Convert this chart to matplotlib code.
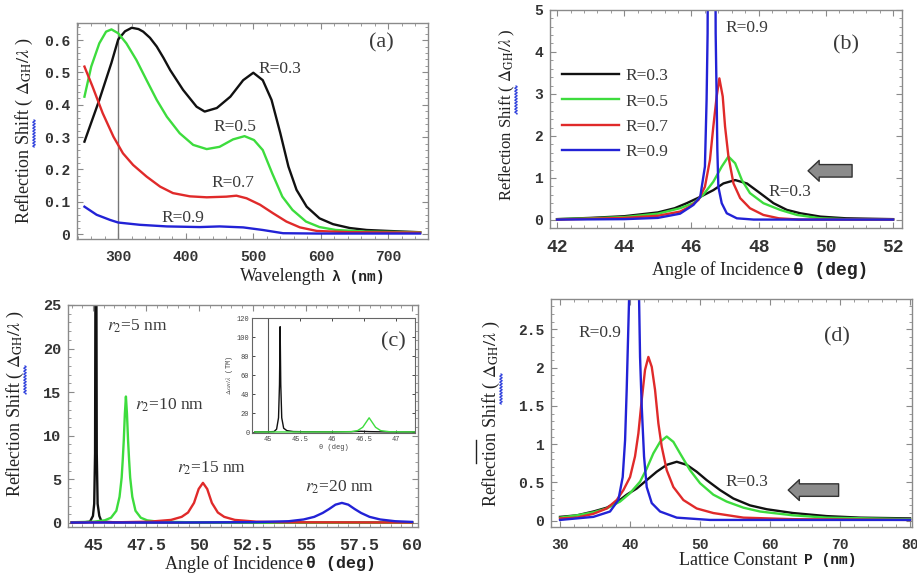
import matplotlib
matplotlib.use('Agg')
import numpy as np
import matplotlib.pyplot as plt
from matplotlib.ticker import MultipleLocator, AutoMinorLocator, FuncFormatter
from matplotlib.lines import Line2D

SERIF = 'Liberation Serif'
MONO = 'Liberation Mono'
plt.rcParams['font.family'] = MONO
plt.rcParams['font.size'] = 10.5
plt.rcParams['mathtext.fontset'] = 'stix'

COLORS = ['#111111', '#3ddc3d', '#e02a2a', '#2222d6']
R_LABELS = ['R=0.3', 'R=0.5', 'R=0.7', 'R=0.9']
LABEL_COLOR = '#3a3a3a'

# ---- (a) shift vs wavelength ----
a_x_black = [250, 272, 290, 300, 310, 320, 330, 337, 347, 357, 367, 377, 396, 416, 428, 446, 466, 485, 500, 514, 527, 540, 552, 564, 579, 598, 618, 643, 668, 700, 747]
a_y_black = [0.286, 0.415, 0.53, 0.602, 0.627, 0.638, 0.634, 0.626, 0.607, 0.58, 0.545, 0.507, 0.446, 0.394, 0.379, 0.39, 0.425, 0.476, 0.499, 0.476, 0.415, 0.312, 0.209, 0.137, 0.085, 0.049, 0.031, 0.019, 0.013, 0.01, 0.006]
a_x_green = [250, 260, 272, 282, 290, 300, 312, 327, 342, 357, 372, 391, 411, 431, 450, 470, 487, 501, 514, 528, 543, 558, 578, 598, 622, 667, 747]
a_y_green = [0.425, 0.518, 0.59, 0.626, 0.633, 0.621, 0.59, 0.538, 0.476, 0.415, 0.363, 0.312, 0.276, 0.263, 0.27, 0.293, 0.303, 0.291, 0.26, 0.188, 0.116, 0.075, 0.039, 0.022, 0.013, 0.008, 0.006]
a_x_red = [250, 262, 277, 293, 307, 322, 342, 362, 381, 406, 431, 460, 475, 490, 510, 529, 549, 569, 594, 643, 747]
a_y_red = [0.518, 0.456, 0.374, 0.301, 0.25, 0.214, 0.178, 0.147, 0.127, 0.117, 0.114, 0.116, 0.119, 0.111, 0.091, 0.065, 0.039, 0.021, 0.01, 0.006, 0.005]
a_x_blue = [250, 268, 288, 300, 332, 372, 421, 450, 485, 514, 544, 594, 747]
a_y_blue = [0.085, 0.06, 0.044, 0.036, 0.029, 0.024, 0.022, 0.024, 0.021, 0.013, 0.003, 0.002, 0.002]

# ---- (b) shift vs angle ----
b_x_black = [42, 43, 44, 45, 45.5, 45.86, 46.26, 46.65, 46.95, 47.3, 47.65, 48.04, 48.44, 48.84, 49.24, 49.84, 50.6, 51.3, 52]
b_y_black = [0.02, 0.05, 0.09, 0.18, 0.28, 0.4, 0.55, 0.71, 0.87, 0.95, 0.87, 0.64, 0.4, 0.24, 0.16, 0.08, 0.04, 0.03, 0.02]
b_x_green = [42, 43, 44, 45, 45.66, 46.06, 46.35, 46.65, 46.9, 47.1, 47.3, 47.5, 47.74, 48.14, 48.64, 49.14, 49.84, 50.6, 52]
b_y_green = [0.02, 0.04, 0.07, 0.15, 0.28, 0.4, 0.6, 0.91, 1.27, 1.51, 1.35, 0.95, 0.64, 0.4, 0.24, 0.12, 0.04, 0.02, 0.01]
b_x_red = [42, 43, 44, 45, 45.66, 45.96, 46.21, 46.4, 46.55, 46.65, 46.75, 46.83, 46.93, 47.0, 47.1, 47.25, 47.45, 47.74, 48.14, 48.6, 49.2, 52]
b_y_red = [0.01, 0.03, 0.05, 0.1, 0.2, 0.32, 0.48, 0.79, 1.43, 2.22, 2.94, 3.37, 2.94, 2.22, 1.51, 0.87, 0.52, 0.28, 0.12, 0.04, 0.01, 0.01]
b_x_blue = [42, 44, 45, 45.66, 46.06, 46.26, 46.4, 46.45, 46.48, 46.61, 46.72, 46.75, 46.77, 46.8, 46.9, 47.05, 47.35, 47.85, 52]
b_y_blue = [0.01, 0.02, 0.05, 0.15, 0.36, 0.55, 1.27, 2.86, 4.44, 30, 4.44, 2.86, 1.67, 0.79, 0.4, 0.16, 0.04, 0.01, 0.01]

# ---- (c) shift vs angle for r2 ----
R2_LABELS = ['$r_2$=5 nm', '$r_2$=10 nm', '$r_2$=15 nm', '$r_2$=20 nm']
c_x_black = [44, 44.6, 44.86, 45.0, 45.06, 45.1, 45.12, 45.14, 45.16, 45.18, 45.22, 45.3, 45.41, 46, 48, 52, 56, 60]
c_y_black = [0.05, 0.08, 0.15, 0.8, 2.2, 8, 30, 110, 30, 8, 2.2, 0.8, 0.15, 0.08, 0.06, 0.05, 0.05, 0.05]
c_x_green = [44, 45.05, 45.55, 45.85, 46.1, 46.25, 46.35, 46.4, 46.45, 46.5, 46.55, 46.6, 46.65, 46.7, 46.75, 46.85, 47.0, 47.25, 47.55, 48.05, 50, 55, 60]
c_y_green = [0.08, 0.15, 0.3, 0.6, 1.4, 3.0, 5.2, 7.2, 9.5, 12.5, 14.5, 12.5, 9.5, 7.2, 5.2, 3.0, 1.4, 0.6, 0.3, 0.15, 0.06, 0.04, 0.03]
c_x_red = [44, 46.17, 47.67, 48.67, 49.17, 49.47, 49.75, 49.97, 50.17, 50.37, 50.59, 50.87, 51.17, 51.67, 52.67, 54.17, 60]
c_y_red = [0.05, 0.08, 0.15, 0.35, 0.7, 1.2, 2.3, 3.9, 4.6, 3.9, 2.3, 1.2, 0.7, 0.35, 0.15, 0.08, 0.05]
c_x_blue = [44, 50, 52.7, 54.2, 54.9, 55.4, 55.8, 56.1, 56.4, 56.7, 57.0, 57.3, 57.6, 58.0, 58.5, 59.2, 60]
c_y_blue = [0.05, 0.06, 0.1, 0.2, 0.4, 0.7, 1.15, 1.6, 2.1, 2.3, 2.1, 1.6, 1.15, 0.7, 0.4, 0.2, 0.12]
# inset (TM)
ins_x_black = [44.8, 45.0, 45.1, 45.14, 45.17, 45.185, 45.195, 45.205, 45.22, 45.25, 45.3, 45.4, 45.6, 46.0, 46.3, 46.45, 46.6, 46.9, 47.3]
ins_y_black = [0.1, 0.2, 0.5, 3, 15, 50, 111, 50, 15, 4, 1.5, 0.5, 0.3, 0.2, 0.4, 0.8, 0.4, 0.1, 0.05]
ins_x_green = [44.8, 45.5, 46.0, 46.3, 46.4, 46.48, 46.54, 46.58, 46.62, 46.68, 46.76, 46.9, 47.3]
ins_y_green = [0.05, 0.1, 0.15, 0.3, 1.5, 5, 11, 15, 11, 5, 1.5, 0.3, 0.1]

# ---- (d) shift vs lattice constant ----
d_x_black = [30, 32.4, 34.76, 36.67, 38.1, 39.52, 40.95, 42.38, 43.81, 45.24, 46.67, 48.1, 49.52, 50.95, 52.86, 54.76, 57.14, 59.52, 63.3, 68.1, 72.9, 80]
d_y_black = [0.05, 0.07, 0.12, 0.17, 0.24, 0.34, 0.42, 0.53, 0.64, 0.73, 0.77, 0.73, 0.64, 0.53, 0.4, 0.29, 0.2, 0.15, 0.1, 0.06, 0.04, 0.03]
d_x_green = [30, 32.4, 34.76, 36.67, 38.57, 40.0, 41.43, 42.38, 43.33, 44.29, 45.24, 46.19, 47.14, 48.57, 50.0, 51.9, 53.8, 56.2, 58.57, 63.3, 68.1, 80]
d_y_green = [0.04, 0.07, 0.11, 0.16, 0.25, 0.36, 0.51, 0.68, 0.88, 1.03, 1.1, 1.03, 0.88, 0.66, 0.49, 0.34, 0.25, 0.17, 0.12, 0.07, 0.04, 0.02]
d_x_red = [30, 32.4, 34.76, 36.67, 38.1, 39.05, 40.0, 40.71, 41.19, 41.67, 42.14, 42.62, 43.1, 43.57, 44.05, 44.52, 45.24, 46.19, 47.62, 49.52, 51.9, 56.2, 63.3, 80]
d_y_red = [0.03, 0.04, 0.09, 0.16, 0.27, 0.4, 0.57, 0.84, 1.14, 1.58, 1.97, 2.14, 2.01, 1.71, 1.27, 0.97, 0.66, 0.44, 0.27, 0.16, 0.1, 0.04, 0.02, 0.01]
d_x_blue = [30, 34.76, 37.14, 38.33, 38.95, 39.29, 39.52, 39.86, 40.55, 41.29, 41.43, 41.67, 42.0, 42.38, 43.1, 44.29, 46.67, 51.4, 80]
d_y_blue = [0.01, 0.05, 0.12, 0.27, 0.57, 1.05, 1.71, 2.89, 12, 2.89, 2.14, 1.49, 0.84, 0.44, 0.23, 0.12, 0.04, 0.01, 0.01]


def style(ax, xmaj, ymaj, xsize=10.5, ysize=10.5):
    for s in ax.spines.values():
        s.set_color('#8a8a8a')
        s.set_linewidth(1.0)
    ax.xaxis.set_major_locator(MultipleLocator(xmaj))
    ax.yaxis.set_major_locator(MultipleLocator(ymaj))
    ax.xaxis.set_minor_locator(AutoMinorLocator(5))
    ax.yaxis.set_minor_locator(AutoMinorLocator(5))
    fmt = FuncFormatter(lambda v, p: f'{v:g}')
    ax.xaxis.set_major_formatter(fmt)
    ax.yaxis.set_major_formatter(fmt)
    ax.tick_params(which='both', direction='in', top=True, right=True,
                   color='#8a8a8a', labelcolor='#333333')
    ax.tick_params(which='major', length=4, width=0.8)
    ax.tick_params(which='minor', length=2, width=0.6)
    ax.tick_params(axis='x', pad=8, labelsize=xsize)
    ax.tick_params(axis='y', pad=5, labelsize=ysize)
    for lab in ax.get_xticklabels() + ax.get_yticklabels():
        lab.set_fontweight('bold')


def xlabel2(ax, main, unit, xm, xu, y, usize=10.5):
    ax.text(xm, y, main, transform=ax.transAxes, family=SERIF,
            size=13, ha='left', va='center', color='#222222')
    ax.text(xu, y, unit, transform=ax.transAxes, family=MONO, weight='bold',
            size=usize, ha='left', va='center', color='#222222')


def ylabel(ax, x, y, size=13):
    ax.set_ylabel(r'Reflection Shift ( $\Delta_{\mathrm{GH}}/\lambda$ )',
                  family=SERIF, size=size, color='#222222')
    ax.yaxis.set_label_coords(x, y)


def squiggle(x_px, y0_px, y1_px):
    # blue spell-check underline next to the y label (figure pixels)
    yy = np.linspace(y0_px, y1_px, 60)
    xx = x_px + 1.2 * np.sin((yy - y0_px) * 2.1)
    fig.add_artist(Line2D(xx / 917, 1 - yy / 577, color='#3344dd', lw=0.9))


def note(ax, x, y, s, size=12.5, ha='left'):
    ax.text(x, y, s, family=SERIF, size=size, ha=ha,
            va='center', color=LABEL_COLOR)


def block_arrow(ax, x_tip, x_tail, y):
    ax.annotate('', xy=(x_tip, y), xytext=(x_tail, y),
                arrowprops=dict(arrowstyle='simple,head_length=0.8,head_width=1.5,tail_width=0.9',
                                fc='#8c8c8c', ec='#333333', lw=1.0, mutation_scale=10,
                                shrinkA=0, shrinkB=0))


fig = plt.figure(figsize=(9.17, 5.77), dpi=100)

# ---- (a) ----
ax = fig.add_axes([0.084, 0.586, 0.383, 0.374])
ax.axvline(300, color='#777777', lw=1.0)
for xs, ys, c in zip([a_x_black, a_x_green, a_x_red, a_x_blue],
                     [a_y_black, a_y_green, a_y_red, a_y_blue], COLORS):
    ax.plot(xs, ys, color=c, lw=1.7)
ax.set_xlim(239, 759)
ax.set_ylim(-0.0145, 0.6525)
style(ax, 100, 0.1)
note(ax, 507, 0.51, R_LABELS[0])
note(ax, 473, 0.33, R_LABELS[1], ha='center')
note(ax, 470, 0.158, R_LABELS[2], ha='center')
note(ax, 395, 0.05, R_LABELS[3], ha='center')
note(ax, 690, 0.59, '(a)', size=16, ha='center')
xlabel2(ax, 'Wavelength', 'λ (nm)', 0.465, 0.727, -0.175)
ylabel(ax, -0.12, 0.5)
squiggle(34, 120, 147)

# ---- (b) ----
ax = fig.add_axes([0.5998, 0.6049, 0.384, 0.378])
for xs, ys, c, lab in zip([b_x_black, b_x_green, b_x_red, b_x_blue],
                          [b_y_black, b_y_green, b_y_red, b_y_blue], COLORS, R_LABELS):
    ax.plot(xs, ys, color=c, lw=1.7, label=lab)
ax.set_xlim(41.79, 52.27)
ax.set_ylim(-0.19, 5)
style(ax, 2, 1, xsize=13)
leg = ax.legend(loc='upper left', bbox_to_anchor=(0.014, 0.765), frameon=False,
                handlelength=3.3, handletextpad=0.35, labelspacing=0.53,
                borderaxespad=0.0, prop={'family': SERIF, 'size': 12.5})
for t in leg.get_texts():
    t.set_color(LABEL_COLOR)
note(ax, 47.0, 4.57, R_LABELS[3])
note(ax, 48.28, 0.67, R_LABELS[0])
note(ax, 50.6, 4.17, '(b)', size=16, ha='center')
block_arrow(ax, 49.47, 50.78, 1.17)
xlabel2(ax, 'Angle of Incidence', 'θ (deg)', 0.29, 0.69, -0.195, usize=13)
ylabel(ax, -0.094, 0.52, size=12)
squiggle(516, 86, 114)

# ---- (c) ----
ax = fig.add_axes([0.0742, 0.0867, 0.3817, 0.3848])
for xs, ys, c in zip([c_x_black, c_x_green, c_x_red, c_x_blue],
                     [c_y_black, c_y_green, c_y_red, c_y_blue], COLORS):
    ax.plot(xs, ys, color=c, lw=1.7)
ax.set_xlim(43.83, 60.28)
ax.set_ylim(-0.46, 25)
style(ax, 2.5, 5, xsize=12, ysize=11)
note(ax, 45.66, 22.5, R2_LABELS[0])
note(ax, 46.97, 13.5, R2_LABELS[1])
note(ax, 48.95, 6.3, R2_LABELS[2])
note(ax, 54.96, 4.1, R2_LABELS[3])
xlabel2(ax, 'Angle of Incidence', 'θ (deg)', 0.277, 0.68, -0.165, usize=12)
ylabel(ax, -0.12, 0.554)
squiggle(25, 366, 394)

axi = fig.add_axes([0.275, 0.2496, 0.178, 0.199])
axi.axvline(45, color='#555555', lw=0.8)
axi.plot(ins_x_black, ins_y_black, color=COLORS[0], lw=1.0)
axi.plot(ins_x_green, ins_y_green, color=COLORS[1], lw=1.0)
axi.set_xlim(44.76, 47.3)
axi.set_ylim(-1, 120)
for s in axi.spines.values():
    s.set_color('#666666')
    s.set_linewidth(0.8)
axi.xaxis.set_major_locator(MultipleLocator(0.5))
axi.yaxis.set_major_locator(MultipleLocator(20))
axi.xaxis.set_major_formatter(FuncFormatter(lambda v, p: f'{v:g}'))
axi.tick_params(direction='in', top=True, right=True, length=2, width=0.5,
                labelsize=5, labelcolor='#444444', pad=2)
axi.set_xlabel('θ (deg)', fontsize=5, labelpad=1, color='#444444')
axi.set_ylabel(r'$\Delta_{GH}/\lambda$ (TM)', fontsize=5, labelpad=1, color='#444444')
axi.text(46.95, 95, '(c)', family=SERIF, size=16, ha='center',
         va='center', color=LABEL_COLOR)

# ---- (d) ----
ax = fig.add_axes([0.6009, 0.0867, 0.3937, 0.395])
for xs, ys, c in zip([d_x_black, d_x_green, d_x_red, d_x_blue],
                     [d_y_black, d_y_green, d_y_red, d_y_blue], COLORS):
    ax.plot(xs, ys, color=c, lw=1.7)
ax.set_xlim(28.71, 80.29)
ax.set_ylim(-0.082, 2.896)
style(ax, 10, 0.5)
note(ax, 32.6, 2.45, R_LABELS[3])
note(ax, 53.6, 0.51, R_LABELS[0])
note(ax, 69.6, 2.4, '(d)', size=16, ha='center')
block_arrow(ax, 62.6, 69.8, 0.4)
xlabel2(ax, 'Lattice Constant', 'P (nm)', 0.355, 0.7, -0.145)
ylabel(ax, -0.136, 0.496)
squiggle(501, 374, 404)

# stray mark at the left of panel (d)
fig.add_artist(Line2D([0.519, 0.519], [0.198, 0.237], color='#222222', lw=1.0))

fig.savefig('out.png', dpi=100)
